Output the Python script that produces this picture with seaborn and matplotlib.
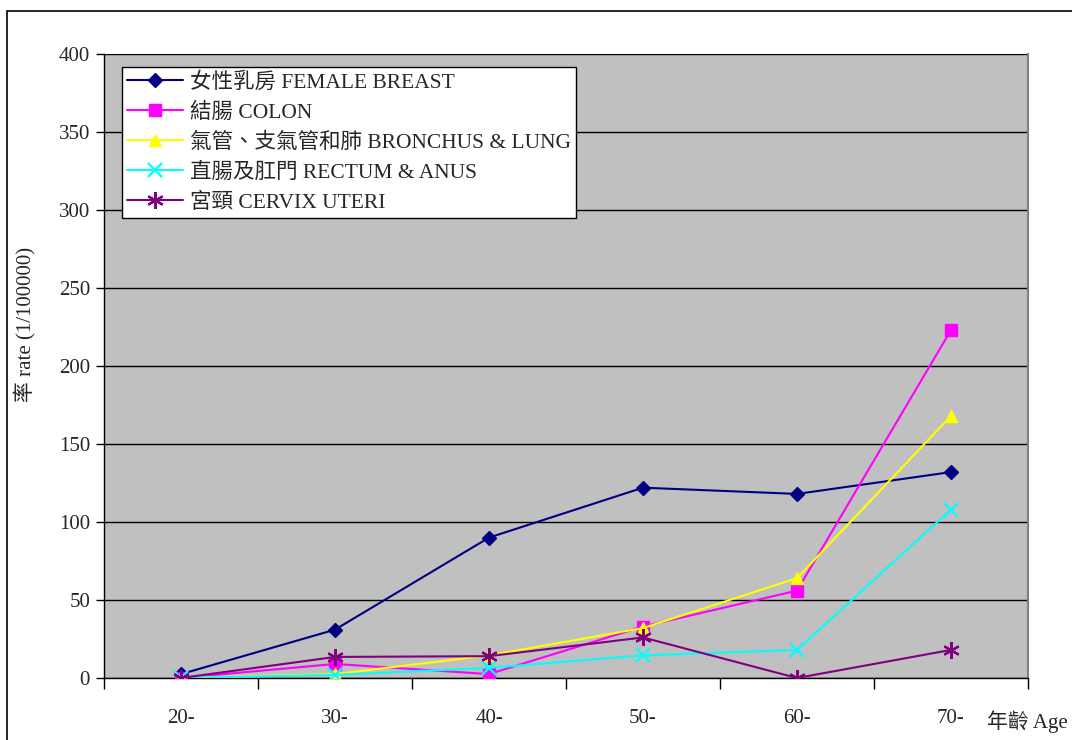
import matplotlib
matplotlib.use("Agg")
import matplotlib.pyplot as plt
import pandas as pd
import seaborn as sns
from matplotlib.patches import Rectangle

AGES = ["20-", "30-", "40-", "50-", "60-", "70-"]
SITES = [
    "女性乳房 FEMALE BREAST",
    "結腸 COLON",
    "氣管、支氣管和肺 BRONCHUS & LUNG",
    "直腸及肛門 RECTUM & ANUS",
    "宮頸 CERVIX UTERI",
]
BREAST = [2.5, 31, 90, 122, 118, 132]
COLON = [0, 9, 2.5, 33, 56, 223]
LUNG = [0, 2.5, 14.5, 32, 64, 168]
RECTUM = [0, 2, 6.5, 14.5, 18, 108]
CERVIX = [0, 13.5, 14, 26, 0, 18]
Y_TICKS = [0, 50, 100, 150, 200, 250, 300, 350, 400]

COLORS = ["#000080", "#FF00FF", "#FFFF00", "#00FFFF", "#800080"]
MARKERS = ["D", "s", "^", "x", (6, 2, 0)]


def main():
    sns.set_theme(style="white")
    plt.rcParams["font.family"] = ["Liberation Serif", "Noto Sans CJK TC", "DejaVu Sans"]

    rows = []
    for site, vals in zip(SITES, [BREAST, COLON, LUNG, RECTUM, CERVIX]):
        for i, v in enumerate(vals):
            rows.append({"site": site, "pos": i, "rate": v})
    df = pd.DataFrame(rows)

    fig = plt.figure(figsize=(10.72, 7.40), dpi=100)
    ax = fig.add_axes([104 / 1072, 62 / 740, 924 / 1072, 624 / 740])
    ax.set_facecolor("#C0C0C0")

    sizes = [7.5, 8, 9, 9.5, 12]
    for site, color, marker, ms in zip(SITES, COLORS, MARKERS, sizes):
        sub = df[df["site"] == site]
        filled = marker in ("D", "s", "^")
        sns.lineplot(
            data=sub, x="pos", y="rate", ax=ax, color=color, linewidth=1.5,
            marker=marker, markersize=ms,
            markeredgecolor=color, markerfacecolor=color if filled else "none",
            markeredgewidth=1 if filled else 1.6, label=site, zorder=3,
        )

    ax.set_xlim(-0.5, 5.5)
    ax.set_ylim(0, 400)
    ax.set_yticks(Y_TICKS)
    ax.set_yticklabels([str(t) for t in Y_TICKS], fontsize=15)
    ax.set_xticks(range(len(AGES)))
    ax.set_xticklabels(AGES, fontsize=15)
    ax.set_xticks([i - 0.5 for i in range(len(AGES) + 1)], minor=True)
    ax.tick_params(axis="x", which="major", length=0, pad=22)
    ax.tick_params(axis="x", which="minor", length=8, width=1, color="black", direction="out", bottom=True)
    ax.tick_params(axis="y", length=6, width=1, color="black", direction="out", left=True, pad=4)
    ax.yaxis.grid(True, color="black", linewidth=1)
    ax.xaxis.grid(False)
    ax.set_axisbelow(True)
    for side in ["left", "bottom"]:
        ax.spines[side].set_color("black")
        ax.spines[side].set_linewidth(1)
    ax.spines["top"].set_visible(False)
    ax.spines["right"].set_color("#808080")
    ax.spines["right"].set_linewidth(1.5)

    ax.set_xlabel("")
    ax.set_ylabel("")
    fig.text(25 / 1072, 416 / 740, "率 rate (1/100000)", rotation=90, fontsize=15,
             ha="center", va="center")
    fig.text(1068 / 1072, 18 / 740, "年齡 Age", fontsize=15, ha="right", va="center")

    leg = ax.legend(loc="upper left", bbox_to_anchor=(18 / 924, 1 - 13 / 624), frameon=True,
                    fancybox=False, edgecolor="black", facecolor="white", framealpha=1,
                    fontsize=15.5, borderpad=0.25, labelspacing=0.45, handlelength=2.6,
                    handletextpad=0.3, borderaxespad=0)
    leg.get_frame().set_linewidth(1)

    fig.patches.append(Rectangle((7 / 1072, -0.1), 1.2, (729 / 740) + 0.1, transform=fig.transFigure,
                                 fill=False, edgecolor="black", linewidth=1.2))

    fig.savefig("out.png", dpi=100)
    plt.close(fig)


if __name__ == "__main__":
    main()
